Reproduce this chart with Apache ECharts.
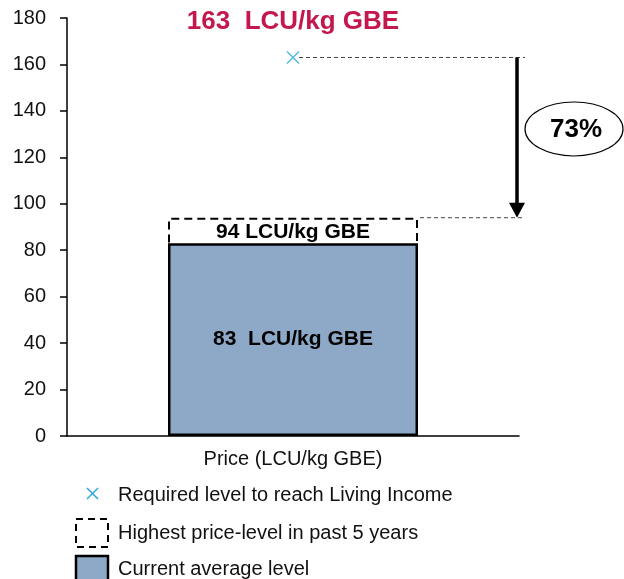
<!DOCTYPE html>
<html>
<head>
<meta charset="utf-8">
<script src="https://cdn.jsdelivr.net/npm/echarts@6/dist/echarts.min.js"></script>
<style>html,body{margin:0;padding:0;background:#fff}#c{width:624px;height:579px}</style>
</head>
<body>
<div id="c"></div>
<script>
const categories = ['Price (LCU/kg GBE)'];
const currentLevel = [83];
const highestLevel = [94];
const requiredLevel = [163];
const gapPercent = 73;
const legendNames = ['Required level to reach Living Income', 'Highest price-level in past 5 years', 'Current average level'];

const FONT = '"Liberation Sans", Arial, sans-serif';
const BLUE = '#8EA9C8';
const CROSS = '#2AA7DF';
const TITLE_COLOR = '#C3174D';

const chart = echarts.init(document.getElementById('c'));
chart.setOption({
  animation: false,
  textStyle: { fontFamily: FONT },
  grid: { left: 67, right: 105, top: 18, bottom: 143 },
  xAxis: {
    type: 'category',
    data: categories,
    axisLine: { lineStyle: { color: '#000', width: 1.5 } },
    axisTick: { show: false },
    axisLabel: { color: '#111', fontSize: 20, margin: 13, fontFamily: FONT }
  },
  yAxis: {
    type: 'value',
    min: 0, max: 180, interval: 20,
    axisLine: { show: true, lineStyle: { color: '#000', width: 1.5 } },
    axisTick: { show: true, length: 7, lineStyle: { color: '#000', width: 1.5 } },
    splitLine: { show: false },
    axisLabel: { color: '#111', fontSize: 20, margin: 21, fontFamily: FONT }
  },
  series: [
    {
      name: legendNames[1],
      type: 'bar',
      data: highestLevel,
      barWidth: 250,
      z: 2,
      itemStyle: { color: '#fff', borderColor: '#000', borderWidth: 2, borderType: [8, 5] },
      label: {
        show: true, position: 'insideTop', distance: 4,
        formatter: p => p.value + ' LCU/kg GBE',
        color: '#000', fontWeight: 'bold', fontSize: 21, fontFamily: FONT
      }
    },
    {
      name: legendNames[2],
      type: 'bar',
      data: currentLevel,
      barWidth: 250,
      barGap: '-100%',
      z: 3,
      itemStyle: { color: BLUE, borderColor: '#000', borderWidth: 2.5 },
      label: {
        show: true, position: 'inside',
        formatter: p => p.value + '  LCU/kg GBE',
        color: '#000', fontWeight: 'bold', fontSize: 21, fontFamily: FONT
      }
    },
    {
      name: legendNames[0],
      type: 'scatter',
      data: requiredLevel,
      symbol: 'path://M0,0L10,10M10,0L0,10',
      symbolSize: 12,
      z: 5,
      itemStyle: { color: 'none', borderColor: CROSS, borderWidth: 1.5 }
    }
  ]
});

// Annotations positioned through the chart's own scales
const pReq = chart.convertToPixel({ seriesIndex: 2 }, [0, requiredLevel[0]]);
const pHigh = chart.convertToPixel({ seriesIndex: 0 }, [0, highestLevel[0]]);
const barRight = pHigh[0] + 125;
const arrowX = 517;
const lineEnd = 525;

chart.setOption({
  graphic: [
    { type: 'text', x: pReq[0], y: 22, style: { text: requiredLevel[0] + '  LCU/kg GBE', fill: TITLE_COLOR, font: 'bold 26px ' + FONT, align: 'center', verticalAlign: 'middle' } },
    { type: 'line', shape: { x1: pReq[0] + 6, y1: pReq[1], x2: lineEnd, y2: pReq[1] }, style: { stroke: '#444', lineWidth: 1, lineDash: [4, 3] } },
    { type: 'line', shape: { x1: barRight + 2, y1: pHigh[1], x2: lineEnd, y2: pHigh[1] }, style: { stroke: '#444', lineWidth: 1, lineDash: [4, 3] } },
    { type: 'line', shape: { x1: arrowX, y1: pReq[1], x2: arrowX, y2: pHigh[1] - 12 }, style: { stroke: '#000', lineWidth: 3.5 } },
    { type: 'polygon', shape: { points: [[arrowX - 8, pHigh[1] - 15], [arrowX + 8, pHigh[1] - 15], [arrowX, pHigh[1]]] }, style: { fill: '#000' } },
    { type: 'ellipse', shape: { cx: 574, cy: 129, rx: 49, ry: 27 }, style: { fill: '#fff', stroke: '#000', lineWidth: 1.2 } },
    { type: 'text', x: 576, y: 130, style: { text: gapPercent + '%', fill: '#000', font: 'bold 26px ' + FONT, align: 'center', verticalAlign: 'middle' } },
    // legend
    { type: 'line', shape: { x1: 87, y1: 488, x2: 98, y2: 499 }, style: { stroke: CROSS, lineWidth: 1.5 } },
    { type: 'line', shape: { x1: 98, y1: 488, x2: 87, y2: 499 }, style: { stroke: CROSS, lineWidth: 1.5 } },
    { type: 'text', x: 118, y: 495, style: { text: legendNames[0], fill: '#111', font: '20px ' + FONT, verticalAlign: 'middle' } },
    { type: 'rect', shape: { x: 76, y: 519, width: 32, height: 28 }, style: { fill: '#fff', stroke: '#000', lineWidth: 2, lineDash: [7, 5] } },
    { type: 'text', x: 118, y: 533, style: { text: legendNames[1], fill: '#111', font: '20px ' + FONT, verticalAlign: 'middle' } },
    { type: 'rect', shape: { x: 76, y: 556, width: 32, height: 28 }, style: { fill: BLUE, stroke: '#000', lineWidth: 2.5 } },
    { type: 'text', x: 118, y: 569, style: { text: legendNames[2], fill: '#111', font: '20px ' + FONT, verticalAlign: 'middle' } }
  ]
});
</script>
</body>
</html>
